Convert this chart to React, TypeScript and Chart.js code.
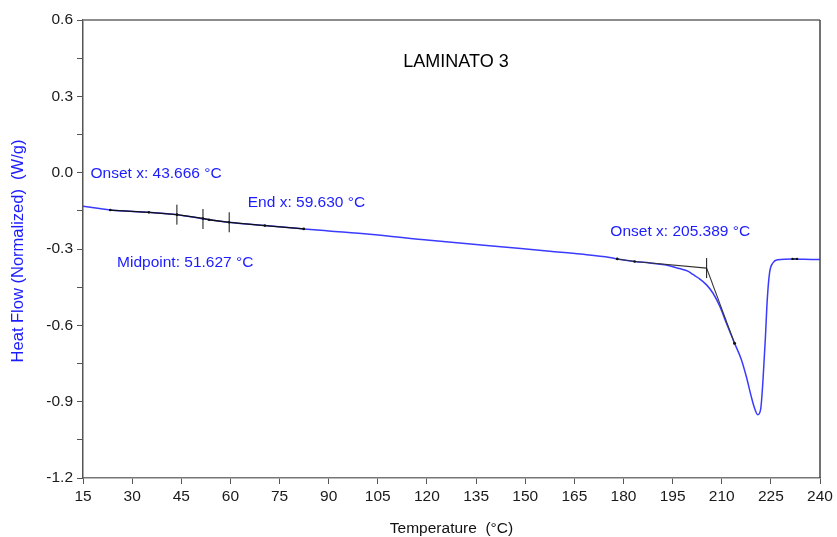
import React, { useEffect, useRef } from 'react';
import { Chart, registerables } from 'chart.js';

Chart.register(...registerables);

// Main DSC curve: temperature (°C) and heat flow (W/g)
const temps = [15, 23.3, 35, 43.7, 51.6, 59.6, 70.5, 82.4, 90, 102.5, 120.8, 139.1, 157.5, 167, 175.8, 178.1, 183.4, 188, 192.6, 197.1, 199.8, 201.2, 203, 205.3, 207.3, 209.4, 211.4, 213.9, 216.0, 217.5, 219.0, 220.0, 221.0, 221.9, 222.6, 223.3, 223.9, 224.6, 225.6, 227.2, 231.7, 238.9, 240];
const heatFlow = [-0.132, -0.147, -0.156, -0.165, -0.181, -0.195, -0.208, -0.221, -0.229, -0.242, -0.266, -0.287, -0.309, -0.320, -0.333, -0.339, -0.349, -0.355, -0.362, -0.377, -0.388, -0.400, -0.415, -0.440, -0.473, -0.525, -0.591, -0.670, -0.735, -0.801, -0.879, -0.925, -0.951, -0.928, -0.814, -0.656, -0.499, -0.394, -0.355, -0.342, -0.339, -0.341, -0.341];

// Glass transition analysis baseline (black)
const gtTemps = [23.3, 35.1, 43.7, 51.6, 53.5, 59.6, 70.5, 82.4];
const gtFlow = [-0.147, -0.156, -0.165, -0.180, -0.185, -0.195, -0.208, -0.221];

// Melting onset tangents (black)
const tan1Temps = [178.1, 183.4, 205.389];
const tan1Flow = [-0.339, -0.349, -0.375];
const tan2Temps = [205.389, 213.9];
const tan2Flow = [-0.375, -0.670];
const endTemps = [231.6, 233.0];
const endFlow = [-0.339, -0.339];

// Cross markers
const crossTemps = [43.666, 51.627, 59.630, 205.389];
const crossFlow = [-0.165, -0.182, -0.195, -0.375];

// Annotation texts (anchor in data units)
const noteTexts = ['Onset x: 43.666 °C', 'End x: 59.630 °C', 'Midpoint: 51.627 °C', 'Onset x: 205.389 °C'];
const noteTemps = [17.3, 65.3, 25.4, 176.0];
const noteFlow = [-0.004, -0.117, -0.353, -0.231];

const chartTitle = 'LAMINATO 3';
const titleTemp = 112.8;
const titleFlow = 0.434;
const xTitle = 'Temperature  (°C)';
const yTitle = 'Heat Flow (Normalized)  (W/g)';

const xMin = 15, xMax = 240, xStep = 15;
const yMin = -1.2, yMax = 0.6, yStep = 0.15;

const FONT = '"Liberation Sans", Arial, sans-serif';
const BLUE = '#1c1cff';

const zip = (xs: number[], ys: number[]) => xs.map((x, i) => ({ x, y: ys[i] }));

export default function App() {
  const ref = useRef<HTMLCanvasElement | null>(null);

  useEffect(() => {
    document.body.style.margin = '0';
    const canvas = ref.current;
    if (!canvas) return;

    const decor = {
      id: 'decor',
      afterDraw(chart: any) {
        const { ctx, chartArea: a, scales } = chart;
        const xs = scales.x, ys = scales.y;
        ctx.save();
        // top & right frame
        ctx.strokeStyle = '#8c8c8c';
        ctx.lineWidth = 2;
        ctx.beginPath();
        ctx.moveTo(a.left, a.top);
        ctx.lineTo(a.right, a.top);
        ctx.stroke();
        ctx.strokeStyle = '#444';
        ctx.lineWidth = 1.5;
        ctx.beginPath();
        ctx.moveTo(a.right, a.top);
        ctx.lineTo(a.right, a.bottom);
        ctx.stroke();

        // annotations
        ctx.fillStyle = BLUE;
        ctx.font = `15.5px ${FONT}`;
        ctx.textAlign = 'left';
        ctx.textBaseline = 'middle';
        noteTexts.forEach((t, i) => {
          ctx.fillText(t, xs.getPixelForValue(noteTemps[i]), ys.getPixelForValue(noteFlow[i]));
        });

        // chart title
        ctx.fillStyle = '#000';
        ctx.font = `18px ${FONT}`;
        ctx.fillText(chartTitle, xs.getPixelForValue(titleTemp), ys.getPixelForValue(titleFlow));

        // axis titles
        ctx.fillStyle = '#111';
        ctx.font = `15.5px ${FONT}`;
        ctx.textAlign = 'center';
        ctx.fillText(xTitle, (a.left + a.right) / 2, 529);

        ctx.save();
        ctx.translate(18, 251);
        ctx.rotate(-Math.PI / 2);
        ctx.fillStyle = BLUE;
        ctx.font = `16.5px ${FONT}`;
        ctx.fillText(yTitle, 0, 0);
        ctx.restore();
        ctx.restore();
      },
    };

    const chart = new Chart(canvas, {
      type: 'line',
      data: {
        datasets: [
          {
            label: 'cross',
            data: zip(crossTemps, crossFlow),
            showLine: false,
            pointStyle: 'line',
            rotation: 90,
            pointRadius: 10,
            borderColor: '#111',
            backgroundColor: '#111',
            borderWidth: 1,
            order: 0,
          },
          {
            label: 'gt',
            data: zip(gtTemps, gtFlow),
            borderColor: '#111',
            backgroundColor: '#111',
            borderWidth: 1.3,
            pointRadius: 1.3,
            pointBorderWidth: 0,
            order: 1,
          },
          {
            label: 'tan1',
            data: zip(tan1Temps, tan1Flow),
            borderColor: '#333',
            backgroundColor: '#111',
            borderWidth: 1.1,
            pointRadius: [1.3, 1.3, 0],
            pointBorderWidth: 0,
            order: 1,
          },
          {
            label: 'tan2',
            data: zip(tan2Temps, tan2Flow),
            borderColor: '#333',
            backgroundColor: '#111',
            borderWidth: 1.1,
            pointRadius: [0, 1.5],
            pointBorderWidth: 0,
            order: 1,
          },
          {
            label: 'end',
            data: zip(endTemps, endFlow),
            borderColor: '#222',
            backgroundColor: '#111',
            borderWidth: 1.2,
            pointRadius: 1.2,
            pointBorderWidth: 0,
            order: 1,
          },
          {
            label: 'Heat Flow',
            data: zip(temps, heatFlow),
            borderColor: '#3b3bff',
            borderWidth: 1.5,
            pointRadius: 0,
            cubicInterpolationMode: 'monotone',
            order: 5,
          },
        ],
      },
      options: {
        animation: false,
        responsive: false,
        maintainAspectRatio: false,
        layout: { padding: { top: 20, right: 17, left: 0, bottom: 0 } },
        plugins: { legend: { display: false }, tooltip: { enabled: false } },
        scales: {
          x: {
            type: 'linear',
            min: xMin,
            max: xMax,
            ticks: {
              stepSize: xStep,
              autoSkip: false,
              maxRotation: 0,
              padding: 3,
              color: '#1a1a1a',
              font: { family: FONT, size: 15.5 },
              callback: (v: any) => String(v),
            },
            grid: { drawOnChartArea: false, drawTicks: true, tickLength: 6, color: '#555' },
            border: { display: true, color: '#777', width: 1.5 },
            afterFit: (s: any) => { s.height = 59; },
          },
          y: {
            type: 'linear',
            min: yMin,
            max: yMax,
            ticks: {
              stepSize: yStep,
              autoSkip: false,
              padding: 4,
              color: '#1a1a1a',
              font: { family: FONT, size: 15.5 },
              callback: (v: any) => {
                const k = Math.round(Number(v) / yStep);
                return k % 2 === 0 ? (Math.round(Number(v) * 10) / 10).toFixed(1) : '';
              },
            },
            grid: { drawOnChartArea: false, drawTicks: true, tickLength: 6, color: '#555' },
            border: { display: true, color: '#555', width: 1.5 },
            afterFit: (s: any) => { s.width = 83; },
          },
        },
      },
      plugins: [decor],
    } as any);

    return () => chart.destroy();
  }, []);

  return (
    <div style={{ position: 'absolute', left: 0, top: 0, width: 837, height: 537, background: '#fff' }}>
      <canvas ref={ref} width={837} height={537} style={{ width: 837, height: 537, display: 'block' }} />
    </div>
  );
}
